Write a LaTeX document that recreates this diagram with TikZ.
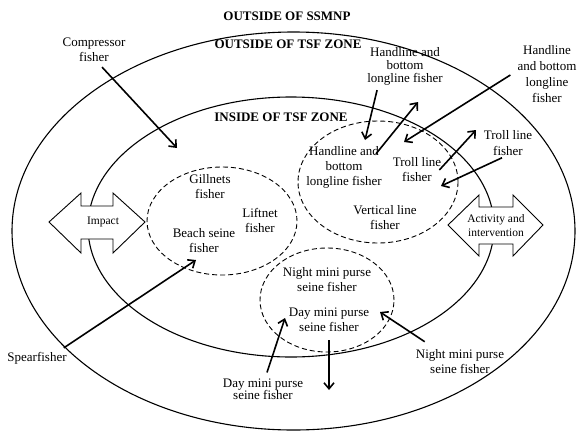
\documentclass[tikz,border=0pt]{standalone}
\usepackage{fontspec}
\setmainfont{Liberation Serif}
\usetikzlibrary{positioning}
\usetikzlibrary{arrows.meta}
\usetikzlibrary{shapes.geometric}
\tikzset{
        textnode/.style={align=center,inner sep=0pt},
        % Zone titles
        zone_title/.style={textnode, font=\fontsize{13}{15}\selectfont\bfseries},
        % Fisher labels
        fisher/.style={textnode, font=\fontsize{13}{15}\selectfont},
        % Zone boundaries
        node_zone/.style={ellipse, draw=black, line width=1.1pt, inner sep=0pt},
        % Fisher groups
        node_group/.style={ellipse, draw=black, line width=0.9pt, dash pattern=on 5pt off 3pt, inner sep=0pt},
        % Fisher movements
        arrow_move/.style={-{Straight Barb[length=6pt,width=10pt]}, line width=1.6pt},
        % Block arrows
        block_arrow/.style={draw=black, fill=white, line width=0.9pt},
        block_text/.style={textnode, font=\fontsize{11.5}{14}\selectfont}
}
\begin{document}
\begin{tikzpicture}[x=1pt, y=-1pt]
    \useasboundingbox (0,0) rectangle (577,431);
    % zones
    \node[node_zone, minimum width=563pt, minimum height=398pt] (ssmnp) at (293.5,231) {};
    \node[node_zone, minimum width=406pt, minimum height=260pt] (tsf) at (291,227) {};
    \node[zone_title] (t_ssmnp) at (287,16) {OUTSIDE OF SSMNP};
    \node[zone_title] (t_out) at (288,44) {OUTSIDE OF TSF ZONE};
    \node[zone_title] (t_in) at (281,117) {INSIDE OF TSF ZONE};
    % groups
    \node[node_group, minimum width=150pt, minimum height=108pt] (nets) at (222,221) {};
    \node[node_group, minimum width=160pt, minimum height=122pt] (lines) at (378,182) {};
    \node[node_group, minimum width=134pt, minimum height=104pt] (purse) at (327,300) {};
    % block arrows
    \draw[block_arrow] (49,222) -- (81,193) -- (81,206) -- (113,206) -- (113,193) -- (145,222)
        -- (113,253) -- (113,239) -- (81,239) -- (81,253) -- cycle;
    \node[block_text] (impact) at (103,222) {Impact};
    \draw[block_arrow] (448,225) -- (479,195) -- (479,207) -- (513,207) -- (513,195) -- (543,225)
        -- (513,256) -- (513,244) -- (479,244) -- (479,256) -- cycle;
    \node[block_text] (activity) at (496,226) {Activity and\\intervention};
    % inside
    \node[fisher] (gill) at (210,187) {Gillnets\\fisher};
    \node[fisher] (lift) at (260,220) {Liftnet\\fisher};
    \node[fisher] (beach) at (204,241) {Beach seine\\fisher};
    \node[fisher] (hbl) at (344,167) {Handline and\\bottom\\longline fisher};
    \node[fisher] (troll) at (417,170) {Troll line\\fisher};
    \node[fisher] (vertical) at (385,218) {Vertical line\\fisher};
    \node[fisher] (night) at (327,280) {Night mini purse\\seine fisher};
    \node[fisher] (day) at (329,320) {Day mini purse\\seine fisher};
    % outside
    \node[fisher] (compressor) at (94,50) {Compressor\\fisher};
    \node[fisher] (spear) at (37,358) {Spearfisher};
    \node[fisher, font=\fontsize{13}{12}\selectfont] (day_out) at (263,389) {Day mini purse\\seine fisher};
    \node[fisher] (night_out) at (460,362) {Night mini purse\\seine fisher};
    \node[fisher, font=\fontsize{13}{13}\selectfont] (hbl_top) at (405,66) {Handline and\\bottom\\longline fisher};
    \node[fisher, font=\fontsize{13}{16}\selectfont] (hbl_far) at (547,74) {Handline\\and bottom\\longline\\fisher};
    \node[fisher, font=\fontsize{13}{16}\selectfont] (troll_far) at (508,143) {Troll line\\fisher};
    % arrow tips
    \coordinate (c_tip) at (177,148);
    \coordinate (s_tip) at (196,260);
    \coordinate (d_tip) at (285,318);
    \coordinate (down_tip) at (329,390);
    \coordinate (n_tip) at (380,312);
    \coordinate (h1_tip) at (365,140);
    \coordinate (h2_tip) at (418,102);
    \coordinate (h3_tip) at (404,142);
    \coordinate (t1_tip) at (476,130);
    \coordinate (t2_tip) at (441,186);
    % movements
    \draw[arrow_move] ([shift={(8,5)}]compressor.south) -- (c_tip);
    \draw[arrow_move] ([shift={(-3,-4)}]spear.north east) -- (s_tip);
    \draw[arrow_move] ([shift={(4,-6)}]day_out.north) -- (d_tip);
    \draw[arrow_move] ([shift={(0,8)}]day.south) -- (down_tip);
    \draw[arrow_move] ([shift={(9,-8)}]night_out.north west) -- (n_tip);
    \draw[arrow_move] ([shift={(10,5)}]hbl_top.south west) -- (h1_tip);
    \draw[arrow_move] ([shift={(-6,8)}]hbl.north east) -- (h2_tip);
    \draw[arrow_move] ([shift={(-7,1)}]hbl_far.west) -- (h3_tip);
    \draw[arrow_move] ([shift={(-2,0)}]troll.east) -- (t1_tip);
    \draw[arrow_move] ([shift={(-6,2)}]troll_far.south) -- (t2_tip);
\end{tikzpicture}
\end{document}
